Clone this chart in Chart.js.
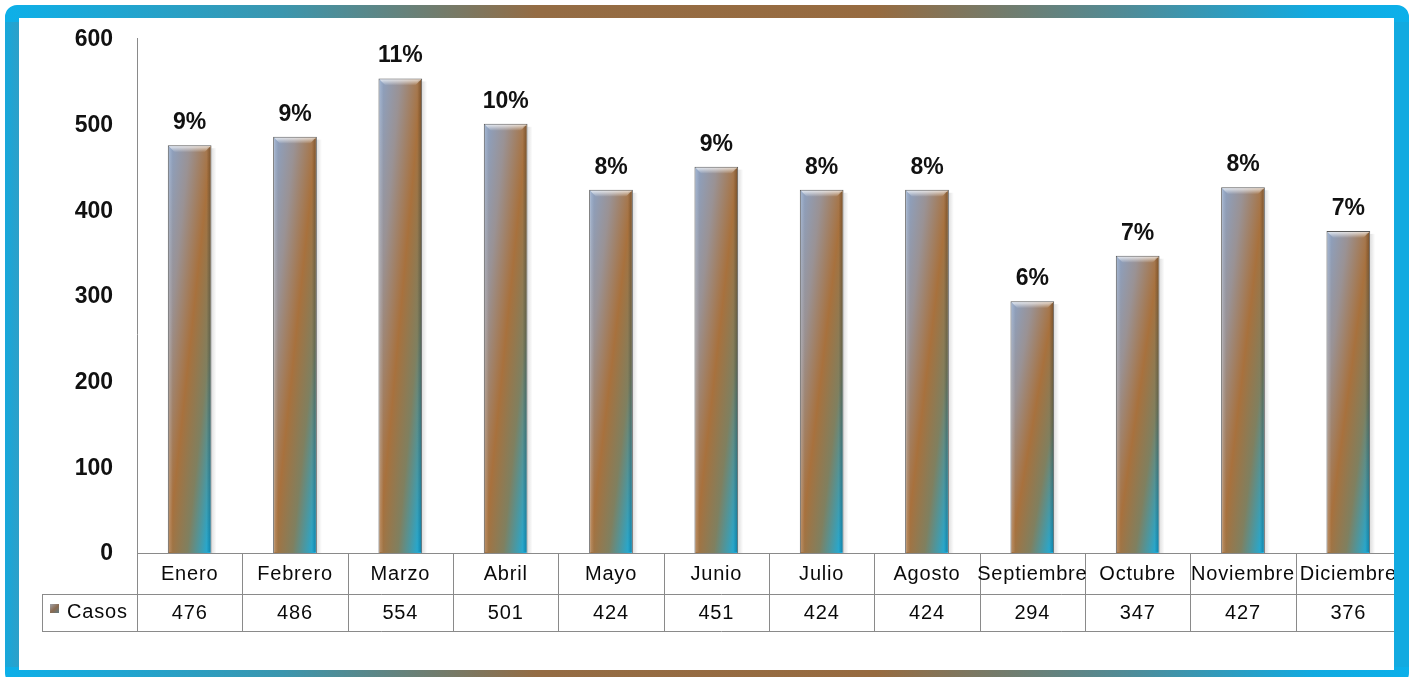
<!DOCTYPE html>
<html>
<head>
<meta charset="utf-8">
<script src="https://cdn.jsdelivr.net/npm/chart.js@4.4.1/dist/chart.umd.min.js"></script>
<style>
html,body{margin:0;padding:0;background:#fff;}
#wrap{width:1412px;height:677px;position:relative;}
</style>
</head>
<body>
<div id="wrap"><canvas id="c" width="1412" height="677"></canvas></div>
<script>
const categories = ['Enero','Febrero','Marzo','Abril','Mayo','Junio','Julio','Agosto','Septiembre','Octubre','Noviembre','Diciembre'];
const casos = [476, 486, 554, 501, 424, 451, 424, 424, 294, 347, 427, 376];
const percentLabels = ['9%','9%','11%','10%','8%','9%','8%','8%','6%','7%','8%','7%'];
const yTicks = [0, 100, 200, 300, 400, 500, 600];
const seriesName = 'Casos';

const FONT = '"Liberation Sans", Arial, sans-serif';
const BAR_PCT = 0.415;

function barGradient(ctx, left, top, w, h) {
  if (!(h > 0)) h = 1;
  const L2 = h*h + w*w;
  const ex = left + 2*w*h*h/L2;
  const ey = top + 2*w*w*h/L2;
  const g = ctx.createLinearGradient(left, top, ex, ey);
  g.addColorStop(0, '#8aa3c8');
  g.addColorStop(0.25, '#9a9294');
  g.addColorStop(0.5, '#a8713d');
  g.addColorStop(0.72, '#7f8060');
  g.addColorStop(1, '#10b2ea');
  return g;
}

const pagePlugin = {
  id: 'page',
  beforeDraw(chart) {
    const ctx = chart.ctx;
    ctx.save();
    ctx.fillStyle = '#ffffff';
    ctx.fillRect(0, 0, chart.width, chart.height);
    ctx.restore();
  },
  afterDatasetsDraw(chart) {
    const ctx = chart.ctx;
    const meta = chart.getDatasetMeta(0);
    ctx.save();
    meta.data.forEach((el, i) => {
      const w = el.width, x0 = el.x - w/2, x1 = el.x + w/2, t = el.y, b = el.base;
      const bev = 7;
      const g = ctx.createLinearGradient(0, t, 0, t + bev);
      g.addColorStop(0, 'rgba(255,255,255,0.85)');
      g.addColorStop(1, 'rgba(255,255,255,0)');
      ctx.fillStyle = g;
      ctx.beginPath();
      ctx.moveTo(x0 + 1, t + 1);
      ctx.lineTo(x1 - 1, t + 1);
      ctx.lineTo(x1 - bev, t + bev);
      ctx.lineTo(x0 + bev, t + bev);
      ctx.closePath();
      ctx.fill();
      const gl = ctx.createLinearGradient(x0, 0, x0 + 5, 0);
      gl.addColorStop(0, 'rgba(255,255,255,0.25)');
      gl.addColorStop(1, 'rgba(255,255,255,0)');
      ctx.fillStyle = gl;
      ctx.fillRect(x0 + 1, t + 2, 5, b - t - 3);
      const gr = ctx.createLinearGradient(x1 - 5, 0, x1, 0);
      gr.addColorStop(0, 'rgba(0,0,0,0)');
      gr.addColorStop(1, 'rgba(0,0,0,0.3)');
      ctx.fillStyle = gr;
      ctx.fillRect(x1 - 6, t + 2, 5, b - t - 3);
      const gs = ctx.createLinearGradient(x1, 0, x1 + 5, 0);
      gs.addColorStop(0, 'rgba(0,0,0,0.12)');
      gs.addColorStop(1, 'rgba(0,0,0,0)');
      ctx.fillStyle = gs;
      ctx.fillRect(x1, t + 3, 5, b - t - 3);
      ctx.fillStyle = '#111111';
      ctx.font = 'bold 23px ' + FONT;
      ctx.textAlign = 'center';
      ctx.textBaseline = 'alphabetic';
      ctx.fillText(percentLabels[i], el.x, t - 16);
    });
    ctx.restore();
  },
  afterDraw(chart) {
    const ctx = chart.ctx;
    const xs = chart.scales.x, ys = chart.scales.y;
    const area = chart.chartArea;
    const colW = (area.right - area.left) / categories.length;
    const y0 = Math.round(ys.getPixelForValue(0));
    const rowTop = y0, rowMid = y0 + 41, rowBot = y0 + 78;
    const legendLeft = 42;
    ctx.save();

    ctx.fillStyle = '#111111';
    ctx.font = 'bold 23px ' + FONT;
    ctx.textAlign = 'right';
    ctx.textBaseline = 'middle';
    yTicks.forEach(v => ctx.fillText(String(v), 113, ys.getPixelForValue(v) + 1));

    ctx.strokeStyle = '#8a8a8a';
    ctx.lineWidth = 1;
    ctx.beginPath();
    ctx.moveTo(area.left + 0.5, ys.getPixelForValue(600) - 1);
    ctx.lineTo(area.left + 0.5, rowBot);
    ctx.moveTo(area.left, rowTop + 0.5); ctx.lineTo(area.right, rowTop + 0.5);
    ctx.moveTo(legendLeft, rowMid + 0.5); ctx.lineTo(area.right, rowMid + 0.5);
    ctx.moveTo(legendLeft, rowBot + 0.5); ctx.lineTo(area.right, rowBot + 0.5);
    ctx.moveTo(legendLeft + 0.5, rowMid); ctx.lineTo(legendLeft + 0.5, rowBot);
    for (let k = 0; k < categories.length; k++) {
      const xr = Math.round(xs.getPixelForValue(k) + colW/2) + 0.5;
      ctx.moveTo(xr, rowTop); ctx.lineTo(xr, rowBot);
    }
    ctx.stroke();

    ctx.fillStyle = '#0a0a0a';
    ctx.textAlign = 'center';
    ctx.textBaseline = 'middle';
    try { ctx.letterSpacing = '0.8px'; } catch (e) {}
    categories.forEach((c, k) => {
      const cx = xs.getPixelForValue(k);
      ctx.font = '20px ' + FONT;
      ctx.fillText(c, cx, rowTop + 21);
      ctx.fillText(String(casos[k]), cx, rowMid + 19);
    });
    ctx.textAlign = 'left';
    ctx.font = '20px ' + FONT;
    ctx.fillText(seriesName, 67, rowMid + 18);
    try { ctx.letterSpacing = '0px'; } catch (e) {}
    const lg = ctx.createLinearGradient(50, 604, 59, 614);
    lg.addColorStop(0, '#a0a4ac');
    lg.addColorStop(0.5, '#8a6a50');
    lg.addColorStop(1, '#5a7c88');
    ctx.fillStyle = lg;
    ctx.fillRect(50, rowMid + 10, 9, 9);

    const W = chart.width;
    const fg = ctx.createLinearGradient(0, 0, W, 0);
    fg.addColorStop(0, '#0cb0ea');
    fg.addColorStop(0.2, '#3b96ae');
    fg.addColorStop(0.38, '#946c44');
    fg.addColorStop(0.62, '#976b40');
    fg.addColorStop(0.8, '#4f8c98');
    fg.addColorStop(0.93, '#12aae0');
    fg.addColorStop(1, '#0cb0ea');
    ctx.fillStyle = fg;
    ctx.beginPath();
    if (ctx.roundRect) ctx.roundRect(5, 5, 1404, 680, 12); else ctx.rect(5, 5, 1404, 680);
    ctx.rect(19, 18, 1375, 652);
    ctx.fill('evenodd');
    const lgL = ctx.createLinearGradient(5, 0, 19, 0);
    lgL.addColorStop(0, '#16a8dc');
    lgL.addColorStop(1, '#2ea0c8');
    ctx.fillStyle = lgL;
    ctx.fillRect(5, 22, 14, 645);
    ctx.fillStyle = '#12aae0';
    ctx.fillRect(1394, 22, 15, 645);
    ctx.restore();
  }
};

new Chart(document.getElementById('c'), {
  type: 'bar',
  data: {
    labels: categories,
    datasets: [{
      label: seriesName,
      data: casos,
      backgroundColor: (context) => {
        const chart = context.chart;
        if (context.type !== 'data' || !chart.chartArea || !chart.scales.x) return '#a0703c';
        const xs = chart.scales.x, ys = chart.scales.y;
        const colW = (chart.chartArea.right - chart.chartArea.left) / categories.length;
        const w = colW * BAR_PCT;
        const left = xs.getPixelForValue(context.dataIndex) - w/2;
        const top = ys.getPixelForValue(context.raw);
        const h = ys.getPixelForValue(0) - top;
        return barGradient(chart.ctx, left, top, w, h);
      },
      borderColor: 'rgba(60,60,60,0.85)',
      borderWidth: 1,
      borderSkipped: 'bottom',
      categoryPercentage: 1,
      barPercentage: BAR_PCT
    }]
  },
  options: {
    responsive: false,
    animation: false,
    layout: { padding: { left: 137, right: 11, top: 39, bottom: 124 } },
    plugins: { legend: { display: false }, tooltip: { enabled: false } },
    scales: {
      x: { display: false, offset: true },
      y: { display: false, min: 0, max: 600 }
    }
  },
  plugins: [pagePlugin]
});
</script>
</body>
</html>
